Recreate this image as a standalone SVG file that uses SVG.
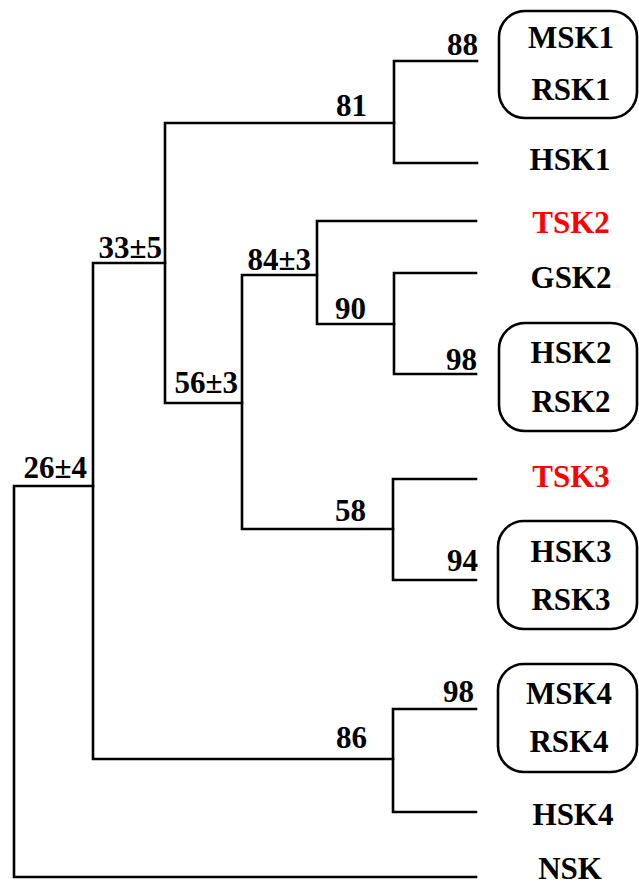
<svg xmlns="http://www.w3.org/2000/svg" width="639" height="886" viewBox="0 0 639 886">
<style>
.br{fill:none;stroke:#000;stroke-width:2.6;stroke-linecap:square}
.box{fill:none;stroke:#000;stroke-width:2.6}
text{font-family:"Liberation Serif","Times New Roman",serif;font-weight:bold;font-size:31px;fill:#000}
.leaf{text-anchor:middle}
.num{text-anchor:end}
.red{fill:#ff0000}
</style>
<rect width="639" height="886" fill="#fff"/>
<g id="connectors">
<path class="br" d="M14,486 V877 H476 M14,486 H93"/>
<path class="br" d="M93,263 V759 H393 M93,263 H165"/>
<path class="br" d="M165,123 V403 H242 M165,123 H394"/>
<path class="br" d="M394,61 V163 H477 M394,61 H477"/>
<path class="br" d="M242,275 V529 H393 M242,275 H317"/>
<path class="br" d="M317,221 V324 H394 M317,221 H476"/>
<path class="br" d="M394,273 V374 H476 M394,273 H476"/>
<path class="br" d="M393,479 V580 H476 M393,479 H476"/>
<path class="br" d="M393,709 V812 H476 M393,709 H476"/>
</g>
<g id="support-values">
<text class="num" x="478" y="55">88</text>
<text class="num" x="367" y="116">81</text>
<text class="num" x="162" y="258">33±5</text>
<text class="num" x="311" y="270">84±3</text>
<text class="num" x="366" y="319">90</text>
<text class="num" x="477" y="370">98</text>
<text class="num" x="238" y="393">56±3</text>
<text class="num" x="87" y="478">26±4</text>
<text class="num" x="366" y="521">58</text>
<text class="num" x="478" y="571">94</text>
<text class="num" x="474" y="702">98</text>
<text class="num" x="367" y="748">86</text>
</g>
<g id="group1">
<rect class="box" x="499" y="11" width="138" height="107" rx="26"/>
<text class="leaf" x="571" y="48">MSK1</text>
<text class="leaf" x="571" y="100">RSK1</text>
</g>
<g id="HSK1"><text class="leaf" x="570" y="170">HSK1</text></g>
<g id="TSK2"><text class="leaf red" x="571" y="233">TSK2</text></g>
<g id="GSK2"><text class="leaf" x="571" y="288">GSK2</text></g>
<g id="group2">
<rect class="box" x="499" y="323" width="138" height="108" rx="26"/>
<text class="leaf" x="571" y="363">HSK2</text>
<text class="leaf" x="571" y="412">RSK2</text>
</g>
<g id="TSK3"><text class="leaf red" x="571" y="487">TSK3</text></g>
<g id="group3">
<rect class="box" x="498" y="521" width="139" height="108" rx="26"/>
<text class="leaf" x="571" y="562">HSK3</text>
<text class="leaf" x="571" y="610">RSK3</text>
</g>
<g id="group4">
<rect class="box" x="498" y="664" width="139" height="108" rx="26"/>
<text class="leaf" x="569" y="704">MSK4</text>
<text class="leaf" x="569" y="752">RSK4</text>
</g>
<g id="HSK4"><text class="leaf" x="573" y="825">HSK4</text></g>
<g id="NSK"><text class="leaf" x="570" y="879">NSK</text></g>
</svg>
